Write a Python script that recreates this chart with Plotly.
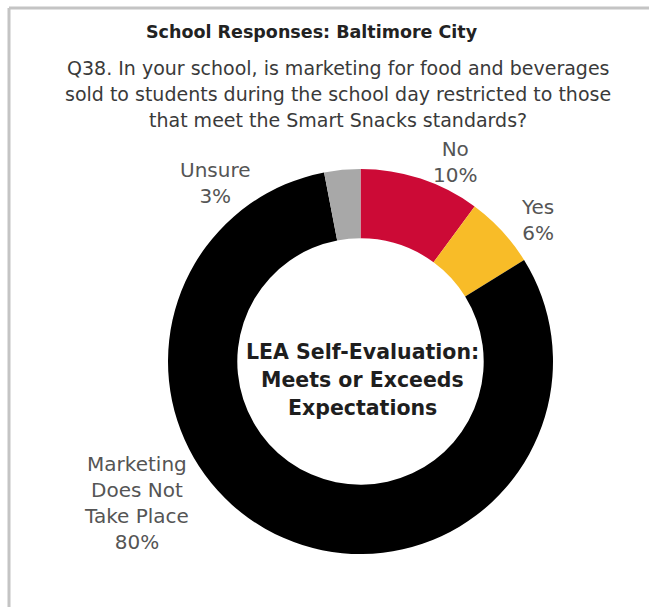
import plotly.graph_objects as go

# Survey responses (percent of schools)
categories = ["No", "Yes", "Marketing<br>Does Not<br>Take Place", "Unsure"]
values = [10, 6, 80, 3]
colors = ["#CC0A36", "#F8BC28", "#000000", "#A8A8A8"]

# Where each outside label sits (pixel coordinates of the label centre)
label_pos = [(455, 162), (537, 220), (136, 503), (215, 183)]

title = "School Responses: Baltimore City"
question = [
    "Q38. In your school, is marketing for food and beverages",
    "sold to students during the school day restricted to those",
    "that meet the Smart Snacks standards?",
]
center_lines = ["LEA Self-Evaluation:", "Meets or Exceeds", "Expectations"]

W, H = 649, 607
FONT = "DejaVu Sans"


def px(x, y):
    return x / W, 1 - y / H


fig = go.Figure()
fig.add_trace(go.Pie(
    labels=categories,
    values=values,
    sort=False,
    direction="clockwise",
    rotation=0,
    hole=0.64,
    marker=dict(colors=colors, line=dict(width=0)),
    textinfo="none",
    hoverinfo="label+percent",
    showlegend=False,
    domain=dict(x=[168 / W, 553 / W], y=[1 - 555 / H, 1 - 168 / H]),
))

annotations = []


def add_text(x, y, text, size, color, bold=False):
    ax, ay = px(x, y)
    annotations.append(dict(
        x=ax, y=ay, xref="paper", yref="paper",
        text=f"<b>{text}</b>" if bold else text, showarrow=False,
        xanchor="center", yanchor="middle", align="center",
        font=dict(family=FONT, size=size, color=color),
    ))


for cat, val, (x, y) in zip(categories, values, label_pos):
    add_text(x, y, f"{cat}<br>{val}%", 20, "#555555")

add_text(312, 32, title, 17.5, "#222222", bold=True)

for i, line in enumerate(question):
    add_text(338, 68 + 26 * i, line, 19, "#3a3a3a")

for i, line in enumerate(center_lines):
    add_text(362, 352 + 28 * i, line, 20.5, "#1e1e1e", bold=True)

# Frame lines along the top and left edges
x0, y0 = px(9, 8)
shapes = [
    dict(type="line", xref="paper", yref="paper", x0=x0, y0=y0, x1=1, y1=y0,
         line=dict(color="#C4C4C4", width=3)),
    dict(type="line", xref="paper", yref="paper", x0=x0, y0=y0, x1=x0, y1=0,
         line=dict(color="#C4C4C4", width=3)),
]

fig.update_layout(
    width=W, height=H,
    margin=dict(l=0, r=0, t=0, b=0),
    paper_bgcolor="white",
    plot_bgcolor="white",
    annotations=annotations,
    shapes=shapes,
)

fig.write_html("out.html")
